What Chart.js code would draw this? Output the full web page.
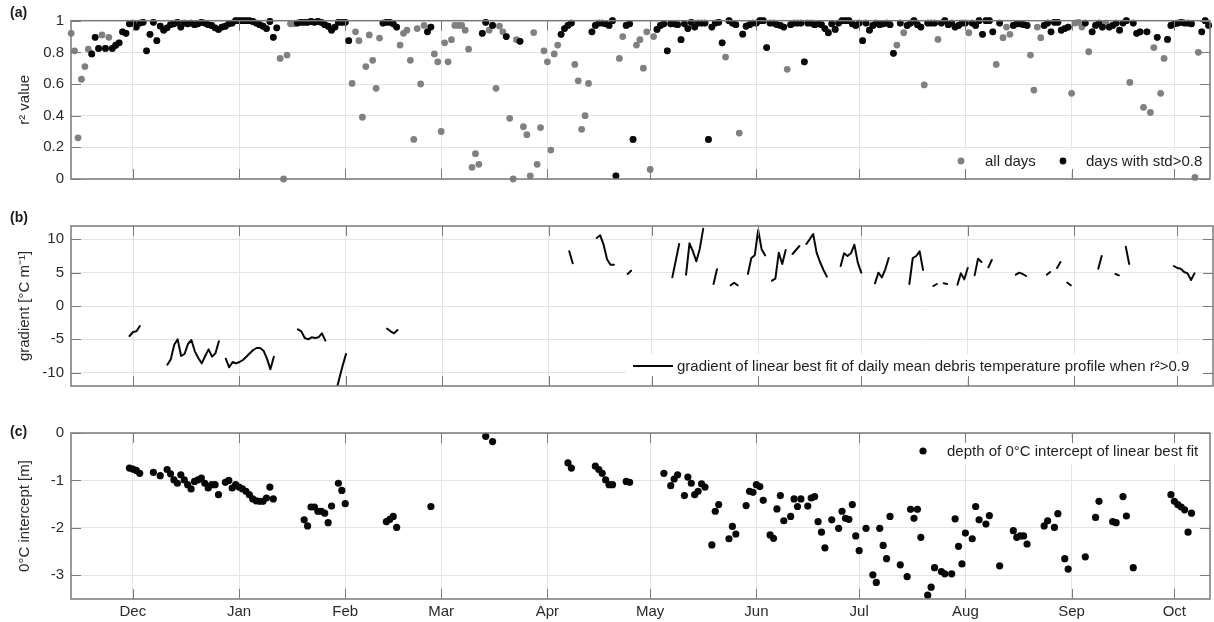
<!DOCTYPE html>
<html><head><meta charset="utf-8">
<script src="https://cdn.jsdelivr.net/npm/chart.js@4.4.1/dist/chart.umd.min.js"></script>
<style>
html,body{margin:0;padding:0;background:#fff;}
#wrap{position:relative;width:1214px;height:622px;background:#fff;}
canvas{position:absolute;left:0;top:0;}
</style></head><body>
<div id="wrap">
<canvas id="pa" width="1214" height="622"></canvas>
<canvas id="pb" width="1214" height="622"></canvas>
<canvas id="pc" width="1214" height="622"></canvas>
</div>
<script>
// ---------- data ----------
const monthDays = [0,31,62,90,121,151,182,212,243,274,304];   // days since 1 Dec
const monthLabels = ['Dec','Jan','Feb','Mar','Apr','May','Jun','Jul','Aug','Sep','Oct'];
const xMin = -18.05, xMax = 314.4;

const r2FirstDay = -18;
const r2Values = [
 .92,.81,.26,.63,.71,.82,.79,.895,.825,.91,
 .825,.895,.825,.845,.86,.93,.92,.98,.985,.96,
 .985,.99,.81,.914,.99,.874,.966,.94,.955,.975,
 .98,.99,.96,.985,.98,.985,.975,.98,.99,.985,
 .975,.97,.955,.945,.96,.965,.98,.985,1,1,
 1,1,1,.995,.985,.975,.965,.95,.995,.895,
 .955,.762,0,.783,.98,.98,.985,.99,.99,.99,
 .995,.99,.995,.99,.975,.965,.94,.96,.99,.99,
 .99,.874,.604,.93,.874,.39,.71,.91,.75,.573,
 .89,.985,.99,.99,.98,.96,.846,.92,.94,.75,
 .25,.95,.60,.97,.93,.96,.79,.74,.30,.86,
 .74,.88,.97,.97,.97,.94,.82,.074,.16,.093,
 .92,.99,.94,.97,.573,.966,.93,.90,.383,0,
 .88,.87,.33,.28,.02,.925,.093,.325,.81,.74,
 .183,.79,.846,.914,.95,.97,.985,.724,.62,.314,
 .40,.604,.93,.97,.985,.985,.98,.97,1,.02,
 .762,.90,.97,.98,.25,.846,.88,.70,.93,.06,
 .90,.945,.97,.98,.81,.98,.98,.975,.88,.98,
 .95,.99,.96,.985,.985,.985,.25,.96,.985,.99,
 .86,.77,1,.985,.975,.29,.915,.965,.975,.985,
 .985,1,1,.83,.985,.985,.975,.97,.96,.693,
 .975,.985,.985,.985,.74,.985,.985,.975,.98,.975,
 .95,.924,.98,.945,.985,1,1,1,.98,.97,
 .985,.874,.985,.94,.97,.985,.975,.98,.985,.975,
 .794,.846,.985,.924,.97,.985,1,.975,.96,.594,
 .985,.985,.985,.882,.985,1,.975,.985,.96,.97,
 .985,.985,.924,.985,.97,1,.914,1,1,.93,
 .724,.985,.893,.96,.914,.97,.98,.98,.975,.97,
 .783,.562,.96,.893,.97,.985,.93,.99,.99,.94,
 .95,.96,.541,.985,.99,.96,.985,.804,.93,.97,
 .985,.96,.985,.96,.97,.985,.94,.985,1,.61,
 .985,.92,.93,.453,.93,.42,.83,.895,.541,.762,
 .882,.97,.98,.985,.99,.985,.985,.98,.01,.80,
 .93,1,.97
];
const highStd = [
 0,0,0,0,0,0,1,1,1,0,
 1,0,1,1,1,1,1,1,1,1,
 1,1,1,1,1,1,1,1,1,1,
 1,1,1,1,1,1,1,1,1,1,
 1,1,1,1,1,1,1,1,1,1,
 1,1,1,1,1,1,1,1,1,1,
 1,0,0,0,0,0,1,1,1,1,
 1,1,1,1,1,1,1,1,1,1,
 1,1,0,0,0,0,0,0,0,0,
 0,1,1,1,1,1,0,0,0,0,
 0,0,0,0,1,1,0,0,0,0,
 0,0,0,0,0,0,0,0,0,0,
 1,1,0,1,0,0,0,1,0,0,
 0,1,0,0,0,0,0,0,0,0,
 0,0,0,1,1,1,1,0,0,0,
 0,0,1,1,1,1,1,1,1,1,
 0,0,1,1,1,0,0,0,0,0,
 0,1,1,1,1,1,1,1,1,1,
 1,1,1,1,1,1,1,1,1,1,
 1,0,1,1,1,0,1,1,1,1,
 1,1,1,1,1,1,1,1,1,0,
 1,1,1,1,1,1,1,1,1,1,
 1,1,1,1,1,1,1,1,1,1,
 1,1,1,1,1,1,1,1,1,1,
 1,0,1,0,1,1,1,1,1,0,
 1,1,1,0,1,1,1,1,1,1,
 1,1,0,1,1,1,1,1,1,1,
 0,1,0,0,0,1,1,1,1,1,
 0,0,0,0,1,1,1,1,1,1,
 1,1,0,0,0,0,1,0,1,1,
 1,1,0,1,1,1,1,1,1,0,
 1,1,1,0,1,0,0,1,0,0,
 1,1,1,1,1,1,1,1,0,0,
 1,1,1
];
const r2Ticks = [0,0.2,0.4,0.6,0.8,1];

const gradStartDays = [-1,10,27,48,59,74,127,135,144,157,161,169,174,179,186,192,196,206,216,226,233,236,240,245,249,257,266,269,272,281,286,289,303];
const gradSegments = [
 [-4.5,-3.9,-3.8,-3.0],
 [-8.8,-8.0,-5.8,-5.0,-7.5,-7.2,-5.7,-5.1,-6.8,-7.8,-8.6,-7.5,-6.5,-7.6,-7.1,-5.3],
 [-7.9,-9.2,-8.4,-8.6,-8.4,-8.1,-7.6,-7.1,-6.6,-6.3,-6.3,-6.7,-7.9,-9.5,-7.6],
 [-3.5,-3.8,-4.8,-5.0,-4.7,-4.8,-4.7,-4.1,-5.2],
 [-13.0,-11.0,-9.0,-7.2],
 [-3.4,-3.8,-4.1,-3.6],
 [8.2,6.4],
 [10.2,10.6,9.2,7.0,6.2,6.2],
 [4.8,5.3],
 [4.3,6.8,9.3],
 [4.7,9.4,8.2,6.7,8.6,11.6],
 [3.3,5.5],
 [3.1,3.5,3.1],
 [4.8,7.2,7.6,11.4,8.5,7.6],
 [3.8,4.1,8.0,6.3,8.4],
 [7.8,8.4,9.0],
 [9.3,10.0,10.8,8.0,6.6,5.4,4.4],
 [6.0,7.9,7.5,7.9,9.2,6.5,5.0],
 [3.4,5.0,4.3,5.5,7.2],
 [3.3,7.2,7.5,8.2,5.4],
 [3.0,3.3],
 [3.4,3.3],
 [3.2,4.9,4.0,5.7],
 [4.6,7.1,6.6],
 [5.8,6.9],
 [4.7,5.0,4.8,4.5],
 [4.7,5.1],
 [5.7,6.6],
 [3.5,3.1],
 [5.6,7.5],
 [4.8,4.6],
 [8.9,6.3],
 [6.0,5.7,5.6,5.1,4.9,3.9,4.9]
];
const gradTicks = [-10,-5,0,5,10];

const depthDays = [-1,0,1,2,6,8,10,11,12,13,14,15,16,17,18,19,20,21,22,23,24,25,27,28,29,30,31,32,33,34,35,36,37,38,39,40,41,
 50,51,52,53,54,55,56,57,58,60,61,62,74,75,76,77,87,103,105,127,128,135,136,137,138,139,140,144,145,
 155,157,158,159,161,162,163,164,165,166,167,169,170,171,174,175,176,179,180,181,182,183,184,186,187,188,189,190,
 192,193,194,195,197,198,199,200,201,202,204,206,207,208,209,210,211,212,214,216,217,218,219,220,221,224,226,227,228,229,230,
 232,233,234,236,237,239,240,241,242,243,245,246,247,249,250,253,257,258,259,260,261,266,267,269,270,272,273,278,281,282,
 286,287,289,290,292,303,304,305,306,307,308,309];
const depthValues = [-0.74,-0.76,-0.79,-0.85,-0.83,-0.90,-0.77,-0.86,-0.99,-1.06,-0.88,-0.99,-1.09,-1.18,-1.02,-0.99,-0.95,-1.06,-1.16,-1.09,-1.09,-1.30,-1.04,-1.00,-1.16,-1.09,-1.14,-1.18,-1.23,-1.30,-1.39,-1.43,-1.44,-1.44,-1.37,-1.14,-1.39,
 -1.83,-1.96,-1.56,-1.56,-1.65,-1.65,-1.69,-1.89,-1.54,-1.06,-1.21,-1.49,-1.87,-1.82,-1.76,-1.99,-1.55,-0.07,-0.18,-0.63,-0.74,-0.70,-0.77,-0.85,-0.99,-1.09,-1.09,-1.02,-1.04,
 -0.85,-1.11,-0.97,-0.88,-1.32,-0.93,-1.06,-1.30,-1.23,-1.07,-1.14,-2.36,-1.65,-1.51,-2.23,-1.97,-2.13,-1.53,-1.23,-1.25,-1.09,-1.13,-1.42,-2.15,-2.22,-1.60,-1.32,-1.85,
 -1.76,-1.39,-1.55,-1.39,-1.54,-1.37,-1.34,-1.87,-2.09,-2.42,-1.83,-2.01,-1.65,-1.80,-1.82,-1.51,-2.17,-2.48,-2.01,-2.99,-3.15,-2.01,-2.37,-2.65,-1.76,-2.78,-3.03,-1.61,-1.80,-1.61,-2.20,
 -3.42,-3.25,-2.84,-2.92,-2.97,-2.97,-1.81,-2.39,-2.76,-2.11,-2.23,-1.55,-1.83,-1.92,-1.74,-2.80,-2.06,-2.20,-2.17,-2.17,-2.34,-1.96,-1.85,-1.99,-1.70,-2.65,-2.87,-2.61,-1.78,-1.44,
 -1.87,-1.89,-1.34,-1.75,-2.84,-1.30,-1.44,-1.51,-1.56,-1.62,-2.09,-1.69];
const depthTicks = [-3,-2,-1,0];

// ---------- styling ----------
const FONT = "'Liberation Sans', Arial, Helvetica, sans-serif";
Chart.defaults.font.family = FONT;
Chart.defaults.font.size = 15;
Chart.defaults.color = '#2a2a2a';
const GRID = '#e4e4e4', AXIS = '#7a7a7a', GRAY = '#808080', BLACK = '#080808';

function xScale(showLabels, h) {
  return {
    type: 'linear', min: xMin, max: xMax,
    afterBuildTicks: s => { s.ticks = monthDays.map(v => ({value: v})); },
    afterFit: s => { s.height = h; },
    grid: {color: GRID, drawTicks: false},
    border: {display: false},
    ticks: {display: showLabels, padding: 4, maxRotation: 0, autoSkip: false,
            callback: (v, i) => monthLabels[i]}
  };
}
function yScale(min, max, tickVals, title) {
  return {
    type: 'linear', min: min, max: max,
    afterBuildTicks: s => { s.ticks = tickVals.map(v => ({value: v})); },
    afterFit: s => { s.width = 71; },
    grid: {color: GRID, drawTicks: false},
    border: {display: false},
    ticks: {padding: 7, callback: v => String(Math.round(v * 10) / 10)},
    title: {display: true, text: title, padding: {top: 16, bottom: 0}, color: '#2a2a2a'}
  };
}

const framePlugin = {
  id: 'frame',
  afterDraw(chart, args, o) {
    const {ctx, chartArea: a, scales} = chart;
    ctx.save();
    ctx.strokeStyle = AXIS; ctx.lineWidth = 1;
    const L = 10;
    ctx.beginPath();
    monthDays.forEach(d => {
      const x = Math.round(scales.x.getPixelForValue(d)) + 0.5;
      ctx.moveTo(x, a.bottom); ctx.lineTo(x, a.bottom - L);
      ctx.moveTo(x, a.top); ctx.lineTo(x, a.top + L);
    });
    scales.y.ticks.forEach(t => {
      const y = Math.round(scales.y.getPixelForValue(t.value)) + 0.5;
      ctx.moveTo(a.left, y); ctx.lineTo(a.left + L, y);
      ctx.moveTo(a.right, y); ctx.lineTo(a.right - L, y);
    });
    ctx.stroke();
    ctx.lineWidth = 1.5;
    ctx.strokeRect(a.left, a.top, a.right - a.left, a.bottom - a.top);
    ctx.fillStyle = '#1a1a1a';
    ctx.font = 'bold 14px ' + FONT;
    ctx.textBaseline = 'middle'; ctx.textAlign = 'left';
    ctx.fillText(o.label, 10, o.labelY);
    ctx.restore();
  }
};

const legendPlugin = {
  id: 'boxLegend',
  afterDatasetsDraw(chart, args, o) {
    const {ctx} = chart;
    ctx.save();
    ctx.fillStyle = '#fff';
    ctx.fillRect(o.box[0], o.box[1], o.box[2] - o.box[0], o.box[3] - o.box[1]);
    ctx.font = '15px ' + FONT;
    ctx.textBaseline = 'middle'; ctx.textAlign = 'left';
    o.items.forEach(it => {
      const ds = chart.data.datasets[it.ds];
      if (it.kind === 'dot') {
        ctx.fillStyle = ds.backgroundColor;
        ctx.beginPath(); ctx.arc(it.x, it.y, ds.pointRadius, 0, Math.PI * 2); ctx.fill();
      } else {
        ctx.strokeStyle = ds.borderColor; ctx.lineWidth = ds.borderWidth;
        ctx.beginPath(); ctx.moveTo(it.x, it.y); ctx.lineTo(it.x2, it.y); ctx.stroke();
      }
      ctx.fillStyle = '#1f1f1f';
      ctx.fillText(ds.label, it.tx, it.y + 1);
    });
    ctx.restore();
  }
};

const base = {responsive: false, animation: false, events: [], devicePixelRatio: 1};

// ---------- panel (a) ----------
const grayPts = r2Values.map((v, i) => ({x: r2FirstDay + i, y: v}));
const blackPts = r2Values.map((v, i) => ({x: r2FirstDay + i, y: v})).filter((p, i) => highStd[i] === 1);
new Chart(document.getElementById('pa'), {
  type: 'scatter',
  data: {datasets: [
    {label: 'all days', data: grayPts, backgroundColor: GRAY, borderWidth: 0, pointRadius: 3.4, clip: 6, order: 2},
    {label: 'days with std>0.8', data: blackPts, backgroundColor: BLACK, borderWidth: 0, pointRadius: 3.4, clip: 6, order: 1}
  ]},
  options: Object.assign({}, base, {
    layout: {padding: {top: 20.7, bottom: 443, left: 0, right: 1}},
    scales: {x: xScale(false, 0), y: yScale(0, 1, r2Ticks, 'r² value')},
    plugins: {legend: {display: false}, tooltip: {enabled: false},
      frame: {label: '(a)', labelY: 13},
      boxLegend: {box: [950, 150, 1210, 172], items: [
        {kind: 'dot', ds: 0, x: 961, y: 161, tx: 985},
        {kind: 'dot', ds: 1, x: 1063, y: 161, tx: 1086}
      ]}}
  }),
  plugins: [legendPlugin, framePlugin]
});

// ---------- panel (b) ----------
const gradPts = [];
gradStartDays.forEach((d0, k) => {
  gradSegments[k].forEach((v, i) => gradPts.push({x: d0 + i, y: v}));
  gradPts.push({x: d0 + gradSegments[k].length - 0.5, y: null});
});
new Chart(document.getElementById('pb'), {
  type: 'line',
  data: {datasets: [
    {label: 'gradient of linear best fit of daily mean debris temperature profile when r²>0.9',
     data: gradPts, borderColor: BLACK, borderWidth: 2, pointRadius: 0, spanGaps: false,
     borderCapStyle: 'round', borderJoinStyle: 'round', tension: 0}
  ]},
  options: Object.assign({}, base, {
    layout: {padding: {top: 226, bottom: 236, left: 0, right: 1}},
    scales: {x: xScale(false, 0), y: yScale(-12, 12, gradTicks, 'gradient [°C m⁻¹]')},
    plugins: {legend: {display: false}, tooltip: {enabled: false},
      frame: {label: '(b)', labelY: 218},
      boxLegend: {box: [626, 354, 1210, 379], items: [
        {kind: 'line', ds: 0, x: 633, x2: 673, y: 366, tx: 677}
      ]}}
  }),
  plugins: [legendPlugin, framePlugin]
});

// ---------- panel (c) ----------
const depthPts = depthDays.map((d, i) => ({x: d, y: depthValues[i]}));
new Chart(document.getElementById('pc'), {
  type: 'scatter',
  data: {datasets: [
    {label: 'depth of 0°C intercept of linear best fit', data: depthPts, backgroundColor: BLACK,
     borderWidth: 0, pointRadius: 3.6, clip: 6}
  ]},
  options: Object.assign({}, base, {
    layout: {padding: {top: 433, bottom: 0, left: 0, right: 1}},
    scales: {x: xScale(true, 23), y: yScale(-3.5, 0, depthTicks, '0°C intercept [m]')},
    plugins: {legend: {display: false}, tooltip: {enabled: false},
      frame: {label: '(c)', labelY: 432},
      boxLegend: {box: [912, 438, 1210, 464], items: [
        {kind: 'dot', ds: 0, x: 923, y: 451, tx: 947}
      ]}}
  }),
  plugins: [legendPlugin, framePlugin]
});
</script>
</body></html>
